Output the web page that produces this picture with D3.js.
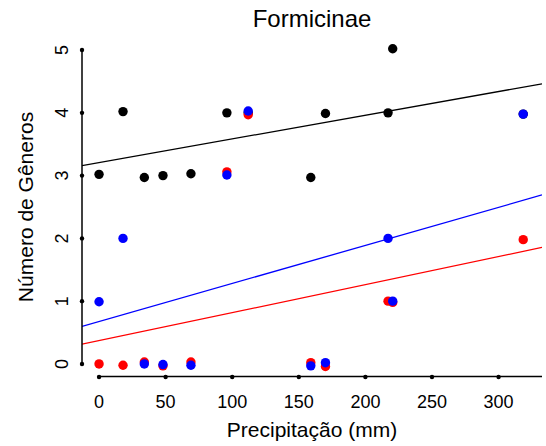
<!DOCTYPE html>
<html>
<head>
<meta charset="utf-8">
<script src="https://cdn.jsdelivr.net/npm/d3@7"></script>
<style>
  body { margin: 0; background: #fff; }
  text { font-family: "Liberation Sans", Arial, sans-serif; fill: #000; }
</style>
</head>
<body>
<div id="chart"></div>
<script>

// sites (precipitation, mm)
var precip = [0, 18, 34, 48, 69, 96, 112, 159, 170, 217, 220.5, 318.5];

// genera counts as plotted (small vertical jitter kept)
var totalGen = [3.02, 4.02, 2.97, 3.0, 3.03, 4.0, 4.0, 2.97, 3.99, 4.0, 5.02, 3.98];
var redGen   = [0.0, -0.02, 0.03, -0.03, 0.03, 3.06, 3.97, 0.02, -0.04, 1.0, 0.98, 1.98];
var blueGen  = [0.99, 2.0, 0.0, -0.01, -0.02, 3.01, 4.03, -0.03, 0.02, 2.0, 1.0, 3.98];

var xTicks = [0, 50, 100, 150, 200, 250, 300];
var yTicks = [0, 1, 2, 3, 4, 5];

var series = [
  {name: "total", color: "#000000", values: totalGen},
  {name: "red", color: "#ff0000", values: redGen},
  {name: "blue", color: "#0000ff", values: blueGen}
];

var width = 546, height = 446;
var pLeft = 82, pRight = 542, pTop = 37.5, pBottom = 376.5;

var x = d3.scaleLinear().domain([-12.8, 332.6]).range([pLeft, pRight]);
var y = d3.scaleLinear().domain([-0.2, 5.2]).range([pBottom, pTop]);

var svg = d3.select("#chart")
  .append("svg")
  .attr("width", width)
  .attr("height", height);

// least squares fit
function fit(xs, ys) {
  var mx = d3.mean(xs), my = d3.mean(ys);
  var sxy = 0, sxx = 0;
  for (var i = 0; i < xs.length; i++) {
    sxy += (xs[i] - mx) * (ys[i] - my);
    sxx += (xs[i] - mx) * (xs[i] - mx);
  }
  var b = sxy / sxx;
  return {a: my - b * mx, b: b};
}

svg.append("clipPath")
  .attr("id", "plotclip")
  .append("rect")
  .attr("x", pLeft).attr("y", pTop)
  .attr("width", pRight - pLeft).attr("height", pBottom - pTop);

// regression lines
var lines = svg.append("g").attr("clip-path", "url(#plotclip)");
series.forEach(function(s) {
  var f = fit(precip, s.values);
  var x0 = x.domain()[0], x1 = x.domain()[1];
  lines.append("line")
    .attr("x1", x(x0)).attr("y1", y(f.a + f.b * x0))
    .attr("x2", x(x1)).attr("y2", y(f.a + f.b * x1))
    .style("stroke", s.color)
    .style("stroke-width", 1.3);
});

// points
series.forEach(function(s) {
  svg.append("g")
    .selectAll("circle")
    .data(s.values)
    .enter()
    .append("circle")
    .attr("cx", function(d, i) { return x(precip[i]); })
    .attr("cy", function(d) { return y(d); })
    .attr("r", 4.7)
    .style("fill", s.color);
});

// x axis
var xAxis = svg.append("g").attr("transform", "translate(0," + pBottom + ")");
xAxis.append("line")
  .attr("x1", x(0)).attr("x2", pRight)
  .style("stroke", "#000").style("stroke-width", 1.5);
xAxis.selectAll(".xt")
  .data(xTicks)
  .enter()
  .append("circle")
  .attr("cx", function(d) { return x(d); })
  .attr("cy", 0.5)
  .attr("r", 2.2);
xAxis.selectAll(".xl")
  .data(xTicks)
  .enter()
  .append("text")
  .attr("x", function(d) { return x(d); })
  .attr("y", 31)
  .attr("text-anchor", "middle")
  .style("font-size", "18px")
  .text(function(d) { return d; });

// y axis
var yAxis = svg.append("g").attr("transform", "translate(" + pLeft + ",0)");
yAxis.append("line")
  .attr("y1", y(0)).attr("y2", y(5))
  .style("stroke", "#000").style("stroke-width", 1.5);
yAxis.selectAll(".yt")
  .data(yTicks)
  .enter()
  .append("circle")
  .attr("cx", 0)
  .attr("cy", function(d) { return y(d); })
  .attr("r", 2.2);
yAxis.selectAll(".yl")
  .data(yTicks)
  .enter()
  .append("text")
  .attr("transform", function(d) { return "translate(-14," + y(d) + ") rotate(-90)"; })
  .attr("text-anchor", "middle")
  .style("font-size", "18px")
  .text(function(d) { return d; });

// titles
svg.append("text")
  .attr("x", (pLeft + pRight) / 2)
  .attr("y", 27)
  .attr("text-anchor", "middle")
  .style("font-size", "24px")
  .text("Formicinae");

svg.append("text")
  .attr("x", (pLeft + pRight) / 2)
  .attr("y", 437)
  .attr("text-anchor", "middle")
  .style("font-size", "21px")
  .text("Precipitação (mm)");

svg.append("text")
  .attr("transform", "translate(33," + (pTop + pBottom) / 2 + ") rotate(-90)")
  .attr("text-anchor", "middle")
  .style("font-size", "21px")
  .text("Número de Gêneros");

</script>
</body>
</html>
